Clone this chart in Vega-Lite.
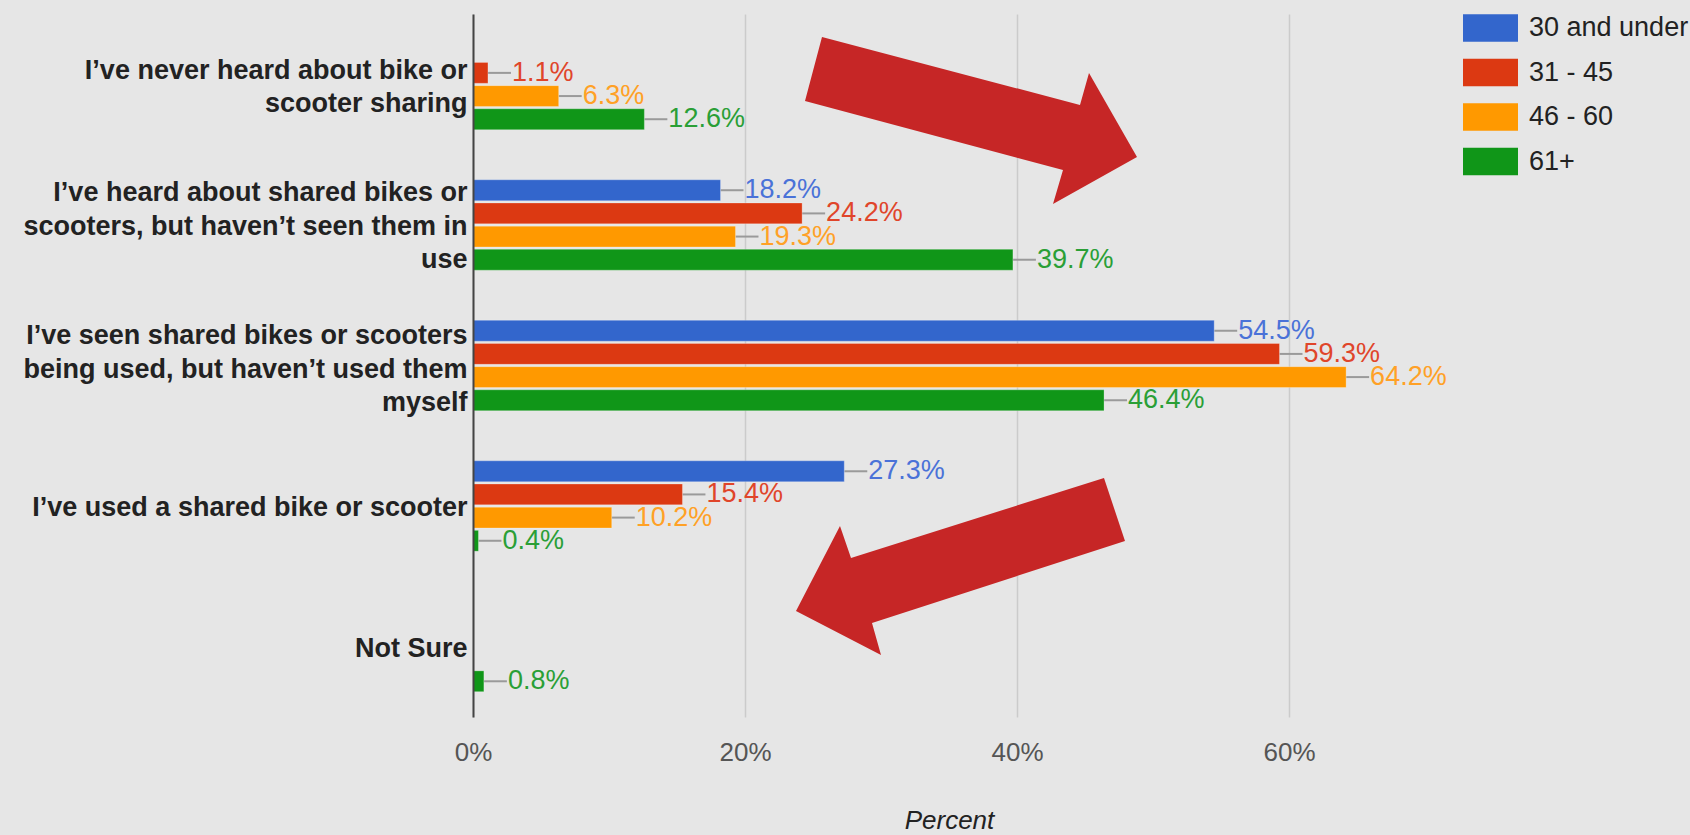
{
  "$schema": "https://vega.github.io/schema/vega-lite/v6.json",
  "autosize": {"type": "none"},
  "padding": {"left": 473, "top": 14, "right": 265, "bottom": 118},
  "width": 952,
  "height": 703,
  "background": "#e6e6e6",
  "config": {
    "view": {"stroke": null},
    "font": "Liberation Sans"
  },
  "datasets": {
    "survey": [
      {"response": "I’ve never heard about bike or scooter sharing", "age": "31 - 45", "pct": 0.011},
      {"response": "I’ve never heard about bike or scooter sharing", "age": "46 - 60", "pct": 0.063},
      {"response": "I’ve never heard about bike or scooter sharing", "age": "61+", "pct": 0.126},
      {"response": "I’ve heard about shared bikes or scooters, but haven’t seen them in use", "age": "30 and under", "pct": 0.182},
      {"response": "I’ve heard about shared bikes or scooters, but haven’t seen them in use", "age": "31 - 45", "pct": 0.242},
      {"response": "I’ve heard about shared bikes or scooters, but haven’t seen them in use", "age": "46 - 60", "pct": 0.193},
      {"response": "I’ve heard about shared bikes or scooters, but haven’t seen them in use", "age": "61+", "pct": 0.397},
      {"response": "I’ve seen shared bikes or scooters being used, but haven’t used them myself", "age": "30 and under", "pct": 0.545},
      {"response": "I’ve seen shared bikes or scooters being used, but haven’t used them myself", "age": "31 - 45", "pct": 0.593},
      {"response": "I’ve seen shared bikes or scooters being used, but haven’t used them myself", "age": "46 - 60", "pct": 0.642},
      {"response": "I’ve seen shared bikes or scooters being used, but haven’t used them myself", "age": "61+", "pct": 0.464},
      {"response": "I’ve used a shared bike or scooter", "age": "30 and under", "pct": 0.273},
      {"response": "I’ve used a shared bike or scooter", "age": "31 - 45", "pct": 0.154},
      {"response": "I’ve used a shared bike or scooter", "age": "46 - 60", "pct": 0.102},
      {"response": "I’ve used a shared bike or scooter", "age": "61+", "pct": 0.004},
      {"response": "Not Sure", "age": "61+", "pct": 0.008}
    ],
    "arrows": [
      {"response": "I’ve never heard about bike or scooter sharing", "pct": 0.36, "arrow": "rising"},
      {"response": "I’ve used a shared bike or scooter", "pct": 0.36, "arrow": "falling"}
    ]
  },
  "resolve": {"scale": {"color": "independent"}, "legend": {"color": "independent"}},
  "encoding": {
    "y": {
      "field": "response",
      "type": "nominal",
      "sort": null,
      "scale": {
        "domain": [
          "I’ve never heard about bike or scooter sharing",
          "I’ve heard about shared bikes or scooters, but haven’t seen them in use",
          "I’ve seen shared bikes or scooters being used, but haven’t used them myself",
          "I’ve used a shared bike or scooter",
          "Not Sure"
        ],
        "paddingInner": 0.357,
        "paddingOuter": 0.18
      },
      "axis": {
        "title": null,
        "domainColor": "#444",
        "domainWidth": 2,
        "ticks": false,
        "labelPadding": 6,
        "labelFont": "Liberation Sans",
        "labelFontWeight": "bold",
        "labelFontSize": 27,
        "labelColor": "#222",
        "labelLineHeight": 33.5,
        "labelLimit": 0,
        "zindex": 2,
        "labelOffset": {
          "condition": [
            {"test": "indexof(datum.value, 'never heard') >= 0", "value": -13.5},
            {"test": "indexof(datum.value, 'heard about shared') >= 0", "value": -31.5},
            {"test": "indexof(datum.value, 'seen shared') >= 0", "value": -29.5}
          ],
          "value": 2
        },
        "labelExpr": "indexof(datum.value, 'never heard') >= 0 ? ['I’ve never heard about bike or', 'scooter sharing'] : indexof(datum.value, 'heard about shared') >= 0 ? ['I’ve heard about shared bikes or', 'scooters, but haven’t seen them in', 'use'] : indexof(datum.value, 'seen shared') >= 0 ? ['I’ve seen shared bikes or scooters', 'being used, but haven’t used them', 'myself'] : datum.value"
      }
    },
    "x": {
      "field": "pct",
      "type": "quantitative",
      "scale": {"domain": [0, 0.7], "nice": false},
      "axis": {
        "values": [0, 0.2, 0.4, 0.6],
        "format": ".0%",
        "domain": false,
        "ticks": false,
        "grid": true,
        "gridColor": "#cbcbcb",
        "gridWidth": 1.5,
        "labelFlush": false,
        "labelFontSize": 26,
        "labelColor": "#555",
        "labelPadding": 22,
        "title": "Percent",
        "titleFontStyle": "italic",
        "titleFontWeight": "normal",
        "titleFontSize": 26,
        "titleColor": "#222",
        "titlePadding": 42
      }
    }
  },
  "layer": [
    {
      "data": {"name": "survey"},
      "mark": {"type": "rule", "x2Offset": 23, "color": "#9a9a9a", "strokeWidth": 2},
      "encoding": {
        "x2": {"field": "pct"},
        "yOffset": {"field": "age", "type": "nominal", "scale": {"domain": ["30 and under", "31 - 45", "46 - 60", "61+"], "paddingInner": 0.1}}
      }
    },
    {
      "data": {"name": "survey"},
      "mark": {"type": "text", "align": "left", "baseline": "middle", "dx": 24, "fontSize": 27},
      "encoding": {
        "text": {"field": "pct", "type": "quantitative", "format": ".1%"},
        "color": {
          "field": "age",
          "type": "nominal",
          "scale": {"domain": ["30 and under", "31 - 45", "46 - 60", "61+"], "range": ["#4a72d8", "#e0452a", "#ffa126", "#2a9f36"]},
          "legend": null
        },
        "yOffset": {"field": "age", "type": "nominal", "scale": {"domain": ["30 and under", "31 - 45", "46 - 60", "61+"], "paddingInner": 0.1}}
      }
    },
    {
      "data": {"name": "survey"},
      "mark": {"type": "bar", "stroke": "#ffffff", "strokeOpacity": 0.25, "strokeWidth": 1},
      "encoding": {
        "color": {
          "field": "age",
          "type": "nominal",
          "scale": {"domain": ["30 and under", "31 - 45", "46 - 60", "61+"], "range": ["#3366cc", "#dc3912", "#ff9900", "#109618"]},
          "legend": {
            "title": null,
            "orient": "none",
            "legendX": 990,
            "legendY": -13.5,
            "padding": 0,
            "symbolType": "M-1,-0.5H1V0.5H-1Z",
            "symbolSize": 3025,
            "symbolStrokeWidth": 0,
            "symbolOpacity": 1,
            "labelFont": "Liberation Sans",
            "labelFontSize": 27,
            "labelColor": "#222",
            "labelOffset": 11,
            "rowPadding": 2.5,
            "labelLimit": 0
          }
        },
        "yOffset": {"field": "age", "type": "nominal", "scale": {"domain": ["30 and under", "31 - 45", "46 - 60", "61+"], "paddingInner": 0.1}}
      }
    },
    {
      "data": {"name": "arrows"},
      "mark": {"type": "point", "filled": true, "size": 4, "opacity": 1, "strokeWidth": 0, "color": "#c62626"},
      "encoding": {
        "shape": {
          "field": "arrow",
          "type": "nominal",
          "scale": {
            "domain": ["rising", "falling"],
            "range": [
              "M-140.6,-47.5L117.4,20.5L126.4,-11.5L174.4,72.5L90.4,119.5L100.4,85.5L-157.6,16.5Z",
              "M141.4,-28L162.4,35L-90.6,117L-81.6,149L-166.6,105L-122.6,20L-111.6,52Z"
            ]
          },
          "legend": null
        }
      }
    }
  ]
}
